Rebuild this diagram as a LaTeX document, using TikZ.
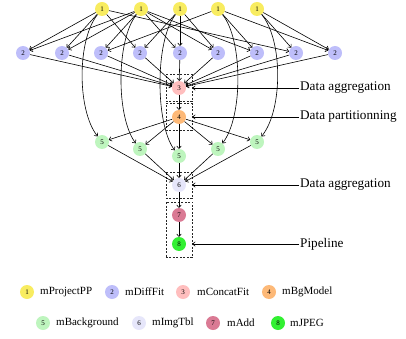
\documentclass[tikz,border=0pt]{standalone}
\usepackage{fontspec}
\setmainfont{Liberation Serif}
\usetikzlibrary{fit,arrows.meta}
\definecolor{cA}{RGB}{248,236,96}
\definecolor{cB}{RGB}{190,190,250}
\definecolor{cC}{RGB}{255,190,190}
\definecolor{cD}{RGB}{253,185,120}
\definecolor{cE}{RGB}{190,245,190}
\definecolor{cF}{RGB}{230,230,250}
\definecolor{cG}{RGB}{218,122,148}
\definecolor{cH}{RGB}{50,240,50}
\begin{document}
\begin{tikzpicture}[x=1pt,y=-1pt,
  task/.style={circle,minimum size=14pt,inner sep=0pt,font=\fontsize{7}{8}\selectfont,text=black},
  flow/.style={-{To[length=3pt,width=5pt]},line width=0.6pt},
  grp/.style={draw=black!85,dashed,dash pattern=on 2pt off 1.5pt,line width=0.6pt,inner sep=6pt},
  lab/.style={anchor=west,inner sep=1pt,font=\fontsize{13.2}{15}\selectfont},
  leg/.style={anchor=west,inner sep=0pt,font=\fontsize{11}{13}\selectfont}]
\useasboundingbox (0,0) rectangle (406,339);
% row 1
\foreach \i/\x in {1/102,2/141,3/180,4/218,5/257}
  \node[task,fill=cA] (p\i) at (\x,9) {1};
% row 2
\foreach \i/\x in {1/23,2/62,3/101,4/140,5/180,6/218,7/257,8/296,9/335}
  \node[task,fill=cB] (d\i) at (\x,53) {2};
\node[task,fill=cC] (cc) at (179,88) {3};
\node[task,fill=cD] (bg) at (179,117) {4};
\node[task,fill=cE] (b1) at (102,142) {5};
\node[task,fill=cE] (b2) at (140,149) {5};
\node[task,fill=cE] (b3) at (179,156) {5};
\node[task,fill=cE] (b4) at (218,149) {5};
\node[task,fill=cE] (b5) at (257,142) {5};
\node[task,fill=cF] (it) at (179,185) {6};
\node[task,fill=cG] (ad) at (179,215) {7};
\node[task,fill=cH] (jp) at (179,244) {8};
% boxes
\node[grp,fit=(cc)] (g3) {};
\node[grp,fit=(bg)] (g4) {};
\node[grp,fit=(it)] (g6) {};
\node[grp,fit=(ad)(jp)] (g78) {};
% 1 -> 2
\foreach \a/\b in {1/1,2/1,1/2,2/2,2/3,4/3,1/4,3/4,2/5,3/5,2/6,3/6,2/7,4/7,1/8,5/8,4/9,5/9}
  \draw[flow] (p\a) -- (d\b);
% 1 -> 5 curves
\draw[flow] (p1) .. controls (77,40) and (77,110) .. (b1);
\draw[flow] (p2) .. controls (116,40) and (116,117) .. (b2);
\draw[flow] (p3) .. controls (155,40) and (155,124) .. (b3);
\draw[flow] (p4) .. controls (243,40) and (243,117) .. (b4);
\draw[flow] (p5) .. controls (283,40) and (283,110) .. (b5);
% 2 -> 3
\foreach \i in {1,...,9} \draw[flow] (d\i) -- (cc);
\draw[flow] (cc) -- (bg);
\foreach \i in {1,...,5} \draw[flow] (bg) -- (b\i);
\foreach \i in {1,...,5} \draw[flow] (b\i) -- (it);
\draw[flow] (it) -- (ad);
\draw[flow] (ad) -- (jp);
% labels
\node[lab] (L1) at (299,88) {Data aggregation};
\node[lab] (L2) at (299,117) {Data partitionning};
\node[lab] (L3) at (299,185) {Data aggregation};
\node[lab] (L4) at (299,244) {Pipeline};
\draw[flow] (L1.west) -- (L1.west -| g3.east);
\draw[flow] (L2.west) -- (L2.west -| g4.east);
\draw[flow] (L3.west) -- (L3.west -| g6.east);
\draw[flow] (L4.west) -- (L4.west -| g78.east);
% legend
\node[task,fill=cA] (k1) at (27,292) {1};
\node[leg] (t1) at (40,292) {mProjectPP};
\node[task,fill=cB] (k2) at (112,292) {2};
\node[leg] (t2) at (125,292) {mDiffFit};
\node[task,fill=cC] (k3) at (183,292) {3};
\node[leg] (t3) at (197,292) {mConcatFit};
\node[task,fill=cD] (k4) at (269,292) {4};
\node[leg] (t4) at (282,292) {mBgModel};
\node[task,fill=cE] (k5) at (43,323) {5};
\node[leg] (t5) at (56,323) {mBackground};
\node[task,fill=cF] (k6) at (139,323) {6};
\node[leg] (t6) at (152,323) {mImgTbl};
\node[task,fill=cG] (k7) at (213,323) {7};
\node[leg] (t7) at (227,323) {mAdd};
\node[task,fill=cH] (k8) at (278,323) {8};
\node[leg] (t8) at (290,323) {mJPEG};
\end{tikzpicture}
\end{document}
